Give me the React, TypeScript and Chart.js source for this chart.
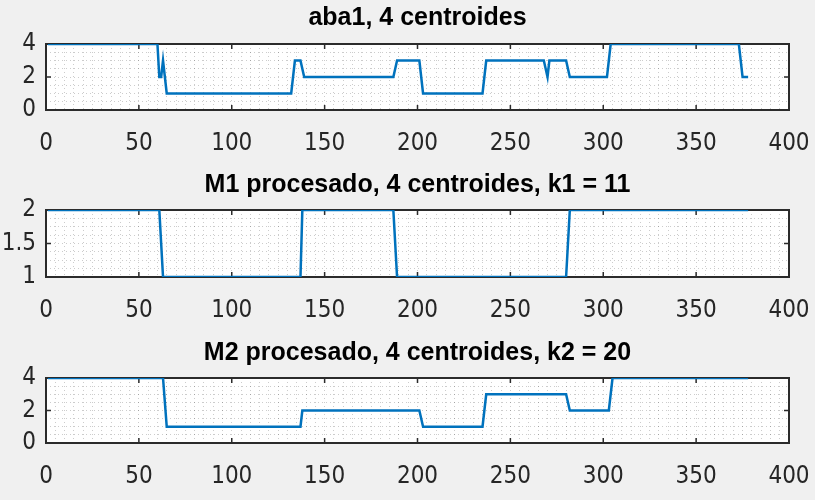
import React, { useEffect, useRef } from "react";
import { Chart, registerables } from "chart.js";

Chart.register(...registerables);

// ---- data ----
const X_MAJOR = [0, 50, 100, 150, 200, 250, 300, 350, 400];

const TITLE_1 = "aba1, 4 centroides";
const aba1X = [1, 60, 61, 62, 63, 65, 132, 134, 137, 139, 187, 189, 201, 203, 235, 237, 268, 270, 271, 280, 282, 302, 304, 373, 375, 378];
const aba1Y = [4, 4, 2, 2, 3, 1, 1, 3, 3, 2, 2, 3, 3, 1, 1, 3, 3, 2, 3, 3, 2, 2, 4, 4, 2, 2];
const Y1_MAJOR = [0, 2, 4];

const TITLE_2 = "M1 procesado, 4 centroides, k1 = 11";
const m1X = [1, 61, 63, 137, 138, 187, 189, 280, 282, 378];
const m1Y = [2, 2, 1, 1, 2, 2, 1, 1, 2, 2];
const Y2_MAJOR = [1, 1.5, 2];

const TITLE_3 = "M2 procesado, 4 centroides, k2 = 20";
const m2X = [1, 63, 65, 137, 138, 201, 203, 235, 237, 280, 282, 303, 305, 378];
const m2Y = [4, 4, 1, 1, 2, 2, 1, 1, 3, 3, 2, 2, 4, 4];
const Y3_MAJOR = [0, 2, 4];

// ---- style ----
const TICK_FONT = '"Liberation Sans Narrow", "DejaVu Sans Condensed", "Liberation Sans", sans-serif';
const TITLE_FONT = '"Liberation Sans", Arial, sans-serif';
const LINE_COLOR = "#0072BD";
const AXIS_COLOR = "#2b2b2b";

const isMajor = (v: number, majors: number[]) => majors.some((m) => Math.abs(m - v) < 1e-9);

const framePlugin = {
  id: "frame",
  beforeDraw(chart: any) {
    const { ctx, chartArea: a } = chart;
    ctx.save();
    ctx.fillStyle = "#ffffff";
    ctx.fillRect(a.left, a.top, a.right - a.left, a.bottom - a.top);
    ctx.restore();
  },
  beforeDatasetsDraw(chart: any, _args: any, opts: any) {
    const { ctx, chartArea: a } = chart;
    const xs = chart.scales.x;
    const ys = chart.scales.y;
    const tl = 5;
    ctx.save();
    ctx.strokeStyle = AXIS_COLOR;
    ctx.lineWidth = 1.5;
    ctx.beginPath();
    for (const v of X_MAJOR) {
      const px = xs.getPixelForValue(v);
      ctx.moveTo(px, a.bottom);
      ctx.lineTo(px, a.bottom - tl);
      ctx.moveTo(px, a.top);
      ctx.lineTo(px, a.top + tl);
    }
    for (const v of opts.yMajor as number[]) {
      const py = ys.getPixelForValue(v);
      ctx.moveTo(a.left, py);
      ctx.lineTo(a.left + tl, py);
      ctx.moveTo(a.right, py);
      ctx.lineTo(a.right - tl, py);
    }
    ctx.stroke();
    ctx.lineWidth = 2;
    ctx.strokeRect(a.left, a.top, a.right - a.left, a.bottom - a.top);
    ctx.restore();
  },
};

interface PanelProps {
  title: string;
  xs: number[];
  ys: number[];
  yMin: number;
  yMax: number;
  yStep: number;
  yMajor: number[];
  top: number;
  height: number;
  padTop: number;
  padBottom: number;
  xAxisHeight: number;
}

function Panel(p: PanelProps) {
  const ref = useRef<HTMLCanvasElement | null>(null);
  useEffect(() => {
    if (!ref.current) return;
    const chart = new Chart(ref.current, {
      type: "line",
      data: {
        datasets: [
          {
            data: p.xs.map((x, i) => ({ x, y: p.ys[i] })),
            borderColor: LINE_COLOR,
            borderWidth: 2.5,
            pointRadius: 0,
            fill: false,
            tension: 0,
          },
        ],
      },
      options: {
        responsive: false,
        animation: false,
        devicePixelRatio: 1,
        events: [],
        layout: { padding: { left: 0, right: 26, top: 0, bottom: 0 } },
        plugins: {
          legend: { display: false },
          tooltip: { enabled: false },
          title: {
            display: true,
            fullSize: false,
            text: p.title,
            color: "#000000",
            font: { size: 25, weight: "bold", family: TITLE_FONT },
            padding: { top: p.padTop, bottom: p.padBottom },
          },
          frame: { yMajor: p.yMajor },
        } as any,
        scales: {
          x: {
            type: "linear",
            min: 0,
            max: 400,
            afterFit: (s: any) => {
              s.height = p.xAxisHeight;
              s.paddingLeft = 0;
              s.paddingRight = 0;
            },
            ticks: {
              stepSize: 5,
              autoSkip: false,
              maxRotation: 0,
              minRotation: 0,
              padding: 19,
              color: "#262626",
              font: { size: 24, family: TICK_FONT },
              callback: (v: any) => (isMajor(Number(v), X_MAJOR) ? String(v) : ""),
            },
            grid: {
              color: "rgba(0,0,0,0.2)",
              lineWidth: 1,
              drawTicks: false,
            },
            border: { display: false, dash: [1, 3] },
          },
          y: {
            type: "linear",
            min: p.yMin,
            max: p.yMax,
            afterFit: (s: any) => {
              s.width = 46;
              s.paddingTop = 0;
              s.paddingBottom = 0;
            },
            ticks: {
              stepSize: p.yStep,
              autoSkip: false,
              padding: 10,
              color: "#262626",
              font: { size: 24, family: TICK_FONT },
              callback: (v: any) => (isMajor(Number(v), p.yMajor) ? String(Number(v)) : ""),
            },
            grid: {
              color: "rgba(0,0,0,0.2)",
              lineWidth: 1,
              drawTicks: false,
            },
            border: { display: false, dash: [1, 3] },
          },
        },
      },
      plugins: [framePlugin],
    } as any);
    return () => chart.destroy();
  }, []);
  return (
    <canvas
      ref={ref}
      width={815}
      height={p.height}
      style={{ position: "absolute", left: 0, top: p.top, width: 815, height: p.height }}
    />
  );
}

export default function App() {
  return (
    <div
      style={{
        position: "fixed",
        left: 0,
        top: 0,
        width: 815,
        height: 500,
        background: "#f0f0f0",
        overflow: "hidden",
      }}
    >
      <Panel title={TITLE_1} xs={aba1X} ys={aba1Y} yMin={0} yMax={4} yStep={0.5} yMajor={Y1_MAJOR}
        top={0} height={160} padTop={3} padBottom={11} xAxisHeight={50} />
      <Panel title={TITLE_2} xs={m1X} ys={m1Y} yMin={1} yMax={2} yStep={0.125} yMajor={Y2_MAJOR}
        top={160} height={170} padTop={10} padBottom={10} xAxisHeight={53} />
      <Panel title={TITLE_3} xs={m2X} ys={m2Y} yMin={0} yMax={4} yStep={0.5} yMajor={Y3_MAJOR}
        top={330} height={170} padTop={8} padBottom={10} xAxisHeight={57} />
    </div>
  );
}
